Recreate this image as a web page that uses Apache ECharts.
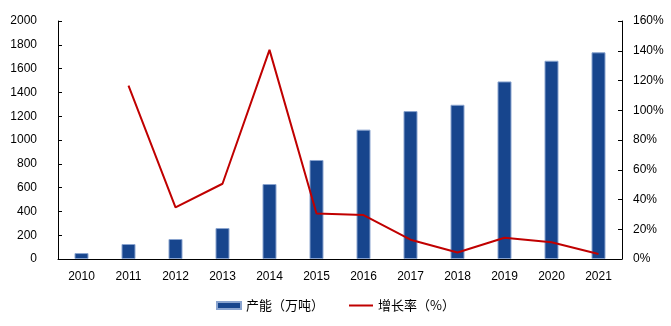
<!DOCTYPE html>
<html><head><meta charset="utf-8">
<script src="https://cdn.jsdelivr.net/npm/echarts@6/dist/echarts.min.js"></script>
<style>html,body{margin:0;padding:0;background:#fff}#c{width:671px;height:326px}</style>
</head><body><div id="c"></div>
<script>
const categories = ['2010','2011','2012','2013','2014','2015','2016','2017','2018','2019','2020','2021'];
const capacity = [50, 126, 168, 260, 630, 832, 1087, 1243, 1296, 1492, 1666, 1737];
const growth = [null, 116.6, 34.7, 50.6, 140.6, 30.6, 29.5, 13, 4.4, 14.3, 11.2, 3.4];
const seriesNames = ['产能（万吨）', '增长率（%）'];

const chart = echarts.init(document.getElementById('c'));
const axisFont = {color:'#000', fontSize:12, fontFamily:'Liberation Sans, Arial, sans-serif'};
chart.setOption({
  animation:false,
  grid:{left:58, right:49, top:21, bottom:67},
  legend:{
    top:294, left:'center', itemWidth:24, itemHeight:7, itemGap:24,
    textStyle:{color:'#000', fontSize:13, fontFamily:'Noto Sans CJK SC'},
    data:[{name:seriesNames[0], icon:'rect'}, {name:seriesNames[1], itemStyle:{opacity:0}}]
  },
  xAxis:{
    type:'category', data:categories,
    axisLine:{lineStyle:{color:'#000', width:1}},
    axisTick:{inside:true, length:4, lineStyle:{color:'#000'}},
    axisLabel:Object.assign({margin:12}, axisFont)
  },
  yAxis:[{
    type:'value', min:0, max:2000, interval:200,
    axisLine:{show:true, lineStyle:{color:'#000'}},
    axisTick:{show:true, inside:true, length:4, lineStyle:{color:'#000'}},
    splitLine:{show:false},
    axisLabel:Object.assign({margin:21, formatter:function(v){return String(v);}}, axisFont)
  },{
    type:'value', min:0, max:160, interval:20,
    axisLine:{show:true, lineStyle:{color:'#000'}},
    axisTick:{show:true, inside:true, length:4, lineStyle:{color:'#000'}},
    splitLine:{show:false},
    axisLabel:Object.assign({margin:11, formatter:'{value}%'}, axisFont)
  }],
  series:[{
    name:seriesNames[0], type:'bar', data:capacity, barWidth:14,
    itemStyle:{color:'#17458d', borderColor:'#8aa4cf', borderWidth:1}
  },{
    name:seriesNames[1], type:'line', yAxisIndex:1, data:growth,
    symbol:'none',
    lineStyle:{color:'#c00000', width:2}, itemStyle:{color:'#c00000'}
  }]
});
</script></body></html>
